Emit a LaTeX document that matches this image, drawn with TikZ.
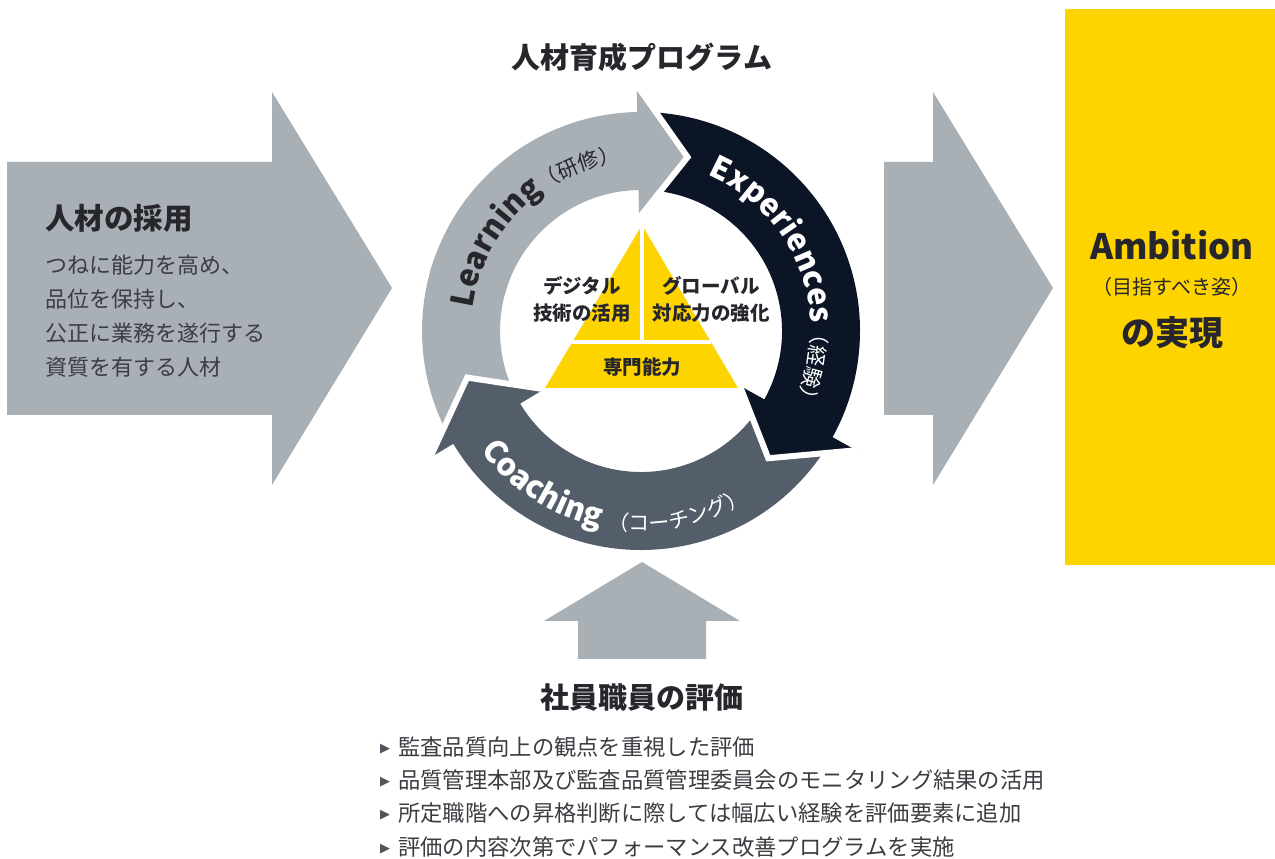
\documentclass[tikz,border=0pt]{standalone}
\usepackage{fontspec}
\setmainfont{Noto Sans CJK JP}
\newfontfamily\symfont{DejaVu Sans}
\usetikzlibrary{positioning,calc,decorations.text}

\definecolor{eygray}{HTML}{A8AFB5}
\definecolor{eyslate}{HTML}{545E6A}
\definecolor{eynavy}{HTML}{0B1526}
\definecolor{eyyellow}{HTML}{FDD300}
\definecolor{eyink}{HTML}{26262C}
\definecolor{eybody}{HTML}{3C3C42}
\definecolor{eybul}{HTML}{50555D}

\newcommand{\fs}[2]{\fontsize{#1}{#2}\selectfont}
\newcommand{\ringlat}{\fs{31}{31}\bfseries}
\newcommand{\ringjp}{\fs{21}{21}\mdseries}
\newcommand{\bul}{\raisebox{3pt}{\symfont\fs{13}{13}\color{eybul}▶}\hspace{8pt}}

% ring pieces (angles in degrees, radii in pt)
\newcommand{\ringbody}[2]{(#1:219pt) arc[start angle=#1, end angle=#2, radius=219pt] -- (#2:141pt) arc[start angle=#2, end angle=#1, radius=141pt] -- cycle}
\newcommand{\ringhead}[1]{(#1:246pt) -- ({#1-16}:180pt) -- (#1:113pt) -- cycle}
\newcommand{\ringflank}[1]{(#1:246pt) -- ({#1-16}:180pt) -- (#1:113pt)}

\begin{document}
\begin{tikzpicture}[
    x=1pt, y=1pt,
    every node/.style={inner sep=0pt, text=eyink},
    bigarrow/.style={fill=eygray},
    gapline/.style={draw=white, line width=6pt, line join=miter},
    divider/.style={draw=white, line width=4pt},
    ringtext/.style={
        decorate,
        decoration={text along path, text align=center, text color=eyink, text={#1}}
    },
    headline/.style={font=\fs{29}{34}\bfseries},
    bodytext/.style={font=\fs{22}{34}, text=eybody, align=left},
    pyrlabel/.style={font=\fs{19.5}{27}\bfseries, align=center},
    bullet/.style={font=\fs{22.3}{26}, text=eybody, anchor=west}
]
\useasboundingbox (0,0) rectangle (1275,859);

% big arrows and goal box
\fill[bigarrow] (7,697) -- (272,697) -- (272,767) -- (392,571) -- (272,374) -- (272,444) -- (7,444) -- cycle;
\fill[bigarrow] (884,697) -- (933,697) -- (933,767) -- (1053,571) -- (933,374) -- (933,444) -- (884,444) -- cycle;
\fill[bigarrow] (578,200) -- (578,238) -- (544,238) -- (642,297) -- (740,238) -- (706,238) -- (706,200) -- cycle;
\fill[eyyellow] (1065,294) rectangle (1275,850);

% training cycle
\begin{scope}[shift={(641,528)}]
  \fill[eygray] \ringbody{206}{160};
  \fill[eyslate] \ringbody{326}{210} \ringhead{211};
  \draw[gapline] \ringflank{211};
  \fill[eynavy] \ringbody{86}{-30} \ringhead{-29};
  \draw[gapline] \ringflank{-29};
  \fill[eygray] \ringbody{165}{90} \ringhead{91};
  \draw[gapline] \ringflank{91};

  \path[ringtext={|\ringlat|Learning|\ringjp|（研修）}]
    (180:170pt) arc[start angle=180, end angle=89, radius=170pt];
  \path[ringtext={|\ringlat|Experiences|\ringjp|（経験）}, decoration={text color=white}]
    (70:170pt) arc[start angle=70, end angle=-29, radius=170pt];
  \path[ringtext={|\ringlat|Coaching |\ringjp|（コーチング）}, decoration={text color=white}]
    (210:200pt) arc[start angle=210, end angle=309, radius=200pt];
\end{scope}

% pyramid
\coordinate (apex) at (642,634);
\coordinate (bl) at (545,471);
\coordinate (br) at (738,471);
\fill[eyyellow] (apex) -- (bl) -- (br) -- cycle;
\draw[divider] ($(apex)!0.718!(bl)$) -- ($(apex)!0.718!(br)$);
\draw[divider] (apex) -- (642,517);

\node[pyrlabel] (digital) at (582,560) {デジタル\\技術の活用};
\node[pyrlabel] (global) at (711,560) {グローバル\\対応力の強化};
\node[pyrlabel] (expert) at (642,492) {専門能力};

% titles
\node[headline] (program) at (642,802) {人材育成プログラム};
\node[headline, anchor=west, font=\fs{29.5}{34}\bfseries] (recruit) at (45,641) {人材の採用};
\node[bodytext, anchor=west] (recruitdesc) at (45,543) {つねに能力を高め、\\品位を保持し、\\公正に業務を遂行する\\資質を有する人材};

\node[font=\fs{35}{40}\bfseries] (ambition) at (1172,614) {Ambition};
\node[font=\fs{20}{24}] (ambsub) at (1172,572) {（目指すべき姿）};
\node[font=\fs{34}{40}\bfseries] (ambjp) at (1172,526) {の実現};

% evaluation
\node[headline] (evaltitle) at (642,161) {社員職員の評価};
\node[bullet] (eval1) at (380,112) {\bul 監査品質向上の観点を重視した評価};
\node[bullet] (eval2) at (380,79) {\bul 品質管理本部及び監査品質管理委員会のモニタリング結果の活用};
\node[bullet] (eval3) at (380,46) {\bul 所定職階への昇格判断に際しては幅広い経験を評価要素に追加};
\node[bullet] (eval4) at (380,12) {\bul 評価の内容次第でパフォーマンス改善プログラムを実施};

\end{tikzpicture}
\end{document}
